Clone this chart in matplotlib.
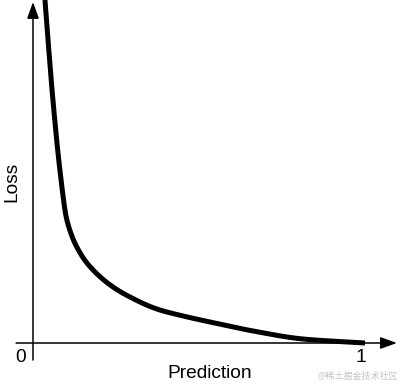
import matplotlib.pyplot as plt
import numpy as np

# curve points (prediction, loss)
prediction = [0.036, 0.060, 0.081, 0.102, 0.142, 0.181, 0.241, 0.292,
              0.373, 0.452, 0.533, 0.663, 0.813, 1.0]
loss = [3.43, 2.43, 1.73, 1.23, 0.90, 0.73, 0.56, 0.46,
        0.34, 0.27, 0.21, 0.12, 0.04, 0.0]

x_ticks = [0, 1]
x_tick_labels = ["0", "1"]

plt.rcParams['font.family'] = ['Liberation Sans', 'DejaVu Sans']

fig = plt.figure(figsize=(4.0, 3.89), dpi=100)
ax = fig.add_axes([0, 0, 1, 1])
ax.set_xlim(-0.0994, 1.1054)
ax.set_ylim(-0.46, 3.43)
ax.axis("off")


# monotone cubic (Fritsch-Carlson) through the read points
def pchip(x, y, xf):
    x = np.asarray(x, float)
    y = np.asarray(y, float)
    h = np.diff(x)
    d = np.diff(y) / h
    m = np.zeros_like(y)
    m[0], m[-1] = d[0], d[-1]
    for i in range(1, len(x) - 1):
        if d[i - 1] * d[i] > 0:
            w1 = 2 * h[i] + h[i - 1]
            w2 = h[i] + 2 * h[i - 1]
            m[i] = (w1 + w2) / (w1 / d[i - 1] + w2 / d[i])
    idx = np.clip(np.searchsorted(x, xf) - 1, 0, len(x) - 2)
    t = (xf - x[idx]) / h[idx]
    h00 = 2 * t ** 3 - 3 * t ** 2 + 1
    h10 = t ** 3 - 2 * t ** 2 + t
    h01 = -2 * t ** 3 + 3 * t ** 2
    h11 = t ** 3 - t ** 2
    return (h00 * y[idx] + h10 * h[idx] * m[idx]
            + h01 * y[idx + 1] + h11 * h[idx] * m[idx + 1])


xf = np.concatenate([np.linspace(prediction[0], 0.15, 600),
                     np.linspace(0.15, prediction[-1], 400)])
yf = pchip(prediction, loss, xf)
ax.plot(xf, yf, color="black", lw=3.6, solid_capstyle="butt", clip_on=False)

arrow = dict(arrowstyle="-|>,head_length=0.5,head_width=0.18",
             mutation_scale=20, color="black", lw=1.1, shrinkA=0, shrinkB=0)
# y axis
ax.annotate("", xy=(0, 3.41), xytext=(0, -0.17), arrowprops=arrow)
# x axis
ax.annotate("", xy=(1.096, 0), xytext=(-0.051, 0), arrowprops=arrow)

for t, lab in zip(x_ticks, x_tick_labels):
    ax.text(t - 0.038 if t == 0 else t - 0.012, -0.14, lab, fontsize=13.8,
            ha="center", va="center")

ax.text(0.532, -0.30, "Prediction", fontsize=13.8, ha="center", va="center")
ax.text(-0.065, 1.61, "Loss", fontsize=13.8, rotation=90, ha="center", va="center")

ax.text(0.995, 0.02, "@稀土掘金技术社区", transform=fig.transFigure,
        fontsize=6.5, color="#c4c4c4", ha="right", va="bottom",
        family=['Noto Sans CJK SC', 'DejaVu Sans'])

fig.savefig("out.png", dpi=100)
